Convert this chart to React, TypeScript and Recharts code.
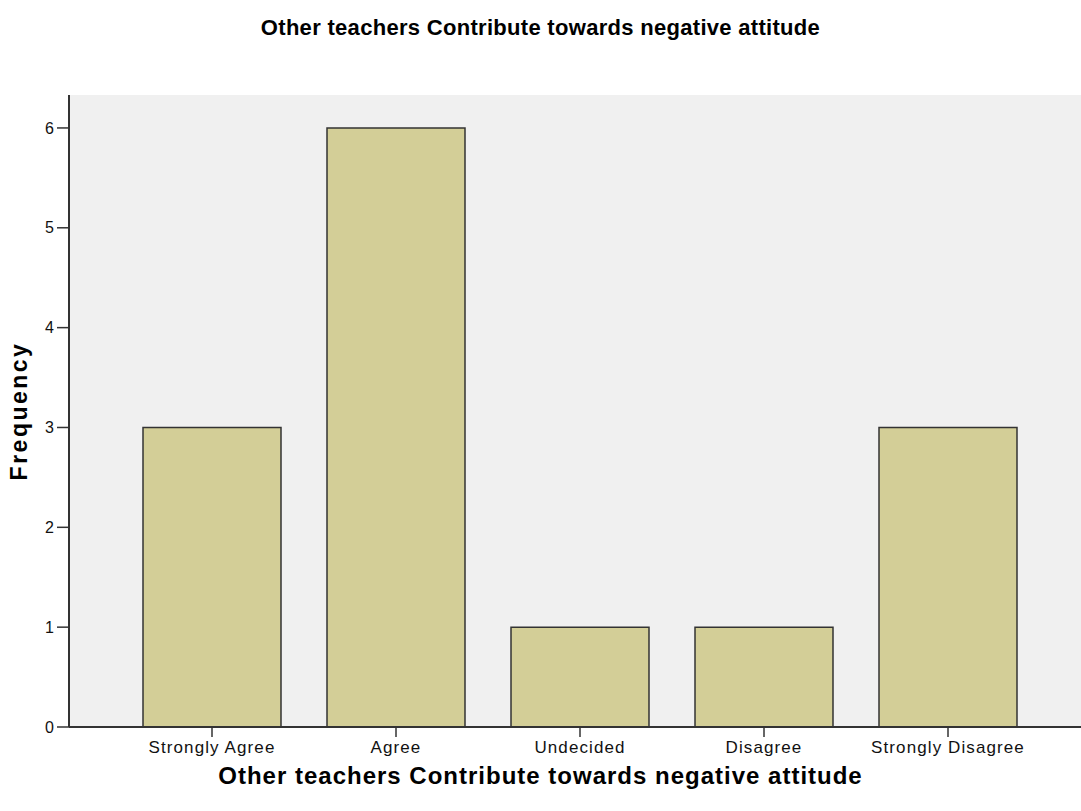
import React from "react";
import { BarChart, Bar, XAxis, YAxis, CartesianGrid } from "recharts";

const categories = ["Strongly Agree", "Agree", "Undecided", "Disagree", "Strongly Disagree"];
const frequencies = [3, 6, 1, 1, 3];
const yTicks = [0, 1, 2, 3, 4, 5, 6];

const data = categories.map((c, i) => ({ category: c, frequency: frequencies[i] }));

const FONT = "'Liberation Sans', Arial, sans-serif";
const TITLE = "Other teachers Contribute towards negative attitude";
const X_TITLE = "Other teachers Contribute towards negative attitude";

export default function App() {
  return (
    <div style={{ position: "absolute", left: 0, top: 0, width: 1081, height: 811, background: "#fff", fontFamily: FONT }}>
      <div style={{ position: "absolute", left: 0, top: 15, width: 1081, textAlign: "center", fontSize: 22, fontWeight: "bold", letterSpacing: 0.3, color: "#000" }}>
        {TITLE}
      </div>
      <BarChart
        width={1081}
        height={811}
        data={data}
        margin={{ top: 95, right: 0, bottom: 0, left: 0 }}
        barCategoryGap="12.5%"
      >
        <CartesianGrid horizontal={false} vertical={false} fill="#f0f0f0" />
        <XAxis
          dataKey="category"
          interval={0}
          height={84}
          padding={{ left: 51, right: 41 }}
          axisLine={{ stroke: "#333", strokeWidth: 2 }}
          tickLine={{ stroke: "#333", strokeWidth: 1.5 }}
          tickSize={10}
          tickMargin={4}
          tick={{ fill: "#111", fontSize: 17, fontFamily: FONT, letterSpacing: 1.1 }}
        />
        <XAxis xAxisId="top" orientation="top" dataKey="category" height={0} tick={false} tickLine={false} axisLine={{ stroke: "#666", strokeWidth: 2 }} />
        <YAxis
          domain={[0, 6.33]}
          ticks={yTicks}
          allowDataOverflow
          width={69}
          axisLine={{ stroke: "#333", strokeWidth: 2 }}
          tickLine={{ stroke: "#333", strokeWidth: 1.5 }}
          tickSize={12}
          tickMargin={3}
          tick={{ fill: "#111", fontSize: 16, fontFamily: FONT }}
          label={{ value: "Frequency", angle: -90, position: "insideLeft", offset: 19, style: { textAnchor: "middle", fontSize: 23, fontWeight: "bold", fill: "#000", fontFamily: FONT, letterSpacing: 2.5 } }}
        />
        <Bar dataKey="frequency" fill="#d3ce97" stroke="#333" strokeWidth={1.5} isAnimationActive={false} />
      </BarChart>
      <div style={{ position: "absolute", left: 0, top: 762, width: 1081, textAlign: "center", fontSize: 24, fontWeight: "bold", letterSpacing: 1.0, color: "#000" }}>
        {X_TITLE}
      </div>
    </div>
  );
}
